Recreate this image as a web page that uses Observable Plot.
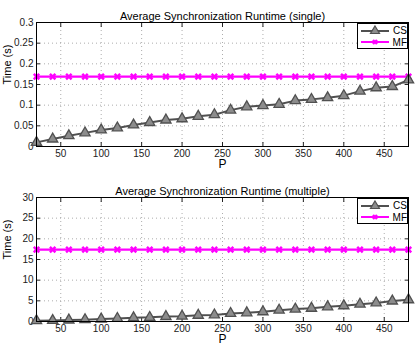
<!DOCTYPE html>
<html><head><meta charset="utf-8">
<script src="https://cdn.jsdelivr.net/npm/d3@7"></script>
<script src="https://cdn.jsdelivr.net/npm/@observablehq/plot@0.6"></script>
<style>
body{margin:0;background:#fff;font-family:"Liberation Sans",Arial,sans-serif;}
#wrap{position:relative;width:415px;height:346px;}
.panel{position:relative;width:415px;height:173px;}
.legend{position:absolute;background:#fff;border:1px solid #000;font-size:10px;font-family:"Liberation Sans",Arial,sans-serif;}
.legend div{display:flex;align-items:center;height:12px;}
.legend svg{margin:0 3px 0 2px;}
</style></head>
<body><div id="wrap"></div>
<script>
const P = [20,40,60,80,100,120,140,160,180,200,220,240,260,280,300,320,340,360,380,400,420,440,460,480];
const csSingle = [0.010,0.018,0.026,0.033,0.040,0.045,0.052,0.058,0.064,0.067,0.073,0.077,0.088,0.096,0.099,0.102,0.111,0.114,0.118,0.123,0.134,0.142,0.145,0.161];
const mfSingle = 0.169;
const csMultiple = [0.2,0.25,0.35,0.45,0.6,0.75,0.9,1.0,1.2,1.3,1.5,1.6,1.95,2.1,2.35,2.75,3.0,3.2,3.55,3.8,4.2,4.5,4.95,5.25];
const mfMultiple = 17.4;
const titles = ["Average Synchronization Runtime (single)","Average Synchronization Runtime (multiple)"];
const xTicks = [50,100,150,200,250,300,350,400,450];
const yTicksSingle = [0,0.05,0.1,0.15,0.2,0.25,0.3];
const yTicksMultiple = [0,5,10,15,20,25,30];
const seriesNames = ["CS","MF"];

const font = "Liberation Sans, Arial, sans-serif";
const csColor = "#505050", csFill = "#8c8c8c", mfColor = "#ff00ff";

function panel(title, cs, mf, yDomain, yTicks, yFmt, mt) {
  const rows = P.map((p,i)=>({P:p, cs:cs[i], mf:mf}));
  const chart = Plot.plot({
    width: 415, height: 173,
    marginLeft: 36, marginRight: 7, marginTop: mt, marginBottom: 173 - mt - 124,
    style: {fontFamily: font, fontSize: "10px", background: "#fff", color: "#222"},
    x: {domain: [20,480], ticks: xTicks, label: null},
    y: {domain: yDomain, ticks: yTicks, label: null},
    marks: [
      Plot.gridX(xTicks, {stroke: "#999", strokeOpacity: 0.8, strokeDasharray: "1,3"}),
      Plot.gridY(yTicks, {stroke: "#999", strokeOpacity: 0.8, strokeDasharray: "1,3"}),
      Plot.axisX(xTicks, {anchor: "bottom", tickSize: -4, tickPadding: 7, label: null, fontSize: 10}),
      Plot.axisX(xTicks, {anchor: "top", tickSize: -4, tickFormat: () => "", label: null}),
      Plot.axisY(yTicks, {anchor: "left", tickSize: -4, tickPadding: 7, tickFormat: yFmt, label: null, fontSize: 10}),
      Plot.axisY(yTicks, {anchor: "right", tickSize: -4, tickFormat: () => "", label: null}),
      Plot.line(rows, {x: "P", y: "mf", stroke: mfColor, strokeWidth: 2.2}),
      Plot.dot(rows, {x: "P", y: "mf", symbol: "times", stroke: mfColor, strokeWidth: 2.4, r: 2.6}),
      Plot.line(rows, {x: "P", y: "cs", stroke: csColor, strokeWidth: 2}),
      Plot.dot(rows, {x: "P", y: "cs", symbol: "triangle", fill: csFill, stroke: csColor, strokeWidth: 1.3, r: 3.8}),
      Plot.frame({stroke: "#000", strokeWidth: 1}),
      Plot.text([title], {frameAnchor: "top", dy: -10, fontSize: 11, fill: "#000"}),
      Plot.text(["P"], {frameAnchor: "bottom", lineAnchor: "middle", dy: 18, fontSize: 12, fill: "#000"}),
      Plot.text(["Time (s)"], {frameAnchor: "left", dx: -29, rotate: -90, fontSize: 11, fill: "#000"})
    ]
  });
  const div = document.createElement("div");
  div.className = "panel";
  div.appendChild(chart);
  const lg = document.createElement("div");
  lg.className = "legend";
  lg.style.left = "357px"; lg.style.top = (mt + 1) + "px";
  lg.style.width = "49px"; lg.style.padding = "0";
  lg.innerHTML =
    `<div><svg width="30" height="12"><line x1="1" x2="29" y1="7" y2="7" stroke="${csColor}" stroke-width="2"/><path d="M15,2 L19.5,9.5 L10.5,9.5 Z" fill="${csFill}" stroke="${csColor}" stroke-width="1.2"/></svg>${seriesNames[0]}</div>` +
    `<div><svg width="30" height="12"><line x1="1" x2="29" y1="6" y2="6" stroke="${mfColor}" stroke-width="2"/><path d="M13,4 L17,8 M17,4 L13,8" stroke="${mfColor}" stroke-width="2.4"/></svg>${seriesNames[1]}</div>`;
  div.appendChild(lg);
  return div;
}

const wrap = document.getElementById("wrap");
wrap.appendChild(panel(titles[0], csSingle, mfSingle, [0,0.3], yTicksSingle, d => d === 0 ? "0" : String(d), 22));
wrap.appendChild(panel(titles[1], csMultiple, mfMultiple, [0,30], yTicksMultiple, d => String(d), 24));
</script></body></html>
